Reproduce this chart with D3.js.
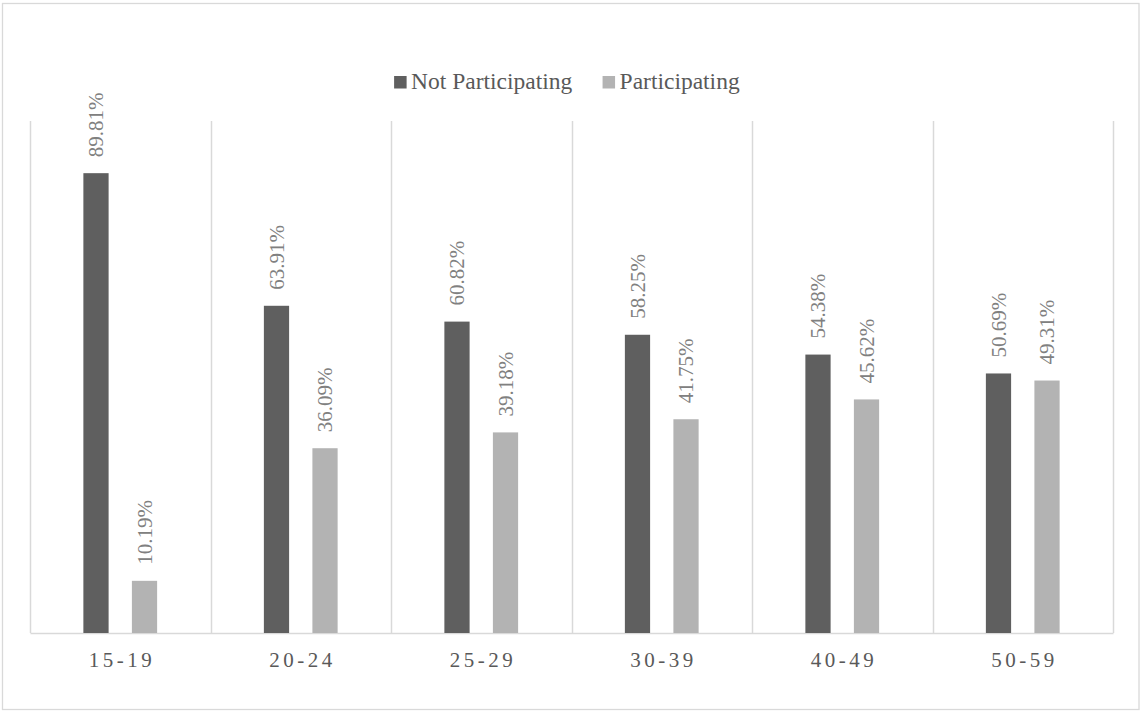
<!DOCTYPE html>
<html>
<head>
<meta charset="utf-8">
<script src="https://cdn.jsdelivr.net/npm/d3@7"></script>
<style>
  html, body { margin: 0; padding: 0; background: #fff; }
  svg { display: block; }
</style>
</head>
<body>
<script>
// Labour-force participation by age group
const ageGroups = ["15-19", "20-24", "25-29", "30-39", "40-49", "50-59"];
const notParticipating = [89.81, 63.91, 60.82, 58.25, 54.38, 50.69];
const participating = [10.19, 36.09, 39.18, 41.75, 45.62, 49.31];
const seriesNames = ["Not Participating", "Participating"];
const seriesColors = ["#5f5f5f", "#b3b3b3"];

const FONT = "'Liberation Serif', 'Times New Roman', serif";
const W = 1141, H = 711;
const plot = { left: 30, right: 1113, top: 121, bottom: 633 };

const svg = d3.select("body").append("svg")
  .attr("width", W).attr("height", H)
  .attr("font-family", FONT);

// chart frame
svg.append("rect")
  .attr("x", 2.5).attr("y", 3.5)
  .attr("width", W - 4.5).attr("height", H - 5)
  .attr("fill", "#fff").attr("stroke", "#d9d9d9").attr("stroke-width", 1.3);

const x0 = d3.scaleBand()
  .domain(ageGroups)
  .range([plot.left, plot.right])
  .paddingInner(0).paddingOuter(0);

const x1 = d3.scaleBand()
  .domain(seriesNames)
  .range([0, x0.bandwidth()])
  .paddingInner(0.48)
  .paddingOuter(1.1);

const y = d3.scaleLinear().domain([0, 100]).range([plot.bottom, plot.top]);

// vertical category separators
const bounds = ageGroups.map(g => x0(g)).concat([plot.right]);
svg.append("g").selectAll("line")
  .data(bounds)
  .join("line")
  .attr("x1", d => Math.round(d) + 0.5).attr("x2", d => Math.round(d) + 0.5)
  .attr("y1", plot.top).attr("y2", plot.bottom)
  .attr("stroke", "#d9d9d9").attr("stroke-width", 1.5);

// category axis
const xAxis = svg.append("g")
  .attr("transform", `translate(0,${plot.bottom})`)
  .call(d3.axisBottom(x0).tickSize(0).tickPadding(19));
xAxis.attr("font-family", FONT);
xAxis.select(".domain").attr("stroke", "#d9d9d9").attr("stroke-width", 1.5);
xAxis.selectAll("text")
  .style("font-family", FONT)
  .attr("font-size", 21)
  .attr("fill", "#595959")
  .attr("letter-spacing", "3.5px")
  .attr("dx", "1.75px");

const rows = ageGroups.map((g, i) => ({
  group: g,
  values: [
    { key: seriesNames[0], value: notParticipating[i], color: seriesColors[0] },
    { key: seriesNames[1], value: participating[i], color: seriesColors[1] }
  ]
}));

const groups = svg.append("g").selectAll("g")
  .data(rows)
  .join("g")
  .attr("transform", d => `translate(${x0(d.group)},0)`);

groups.selectAll("rect")
  .data(d => d.values)
  .join("rect")
  .attr("x", d => x1(d.key))
  .attr("width", x1.bandwidth())
  .attr("y", d => y(d.value))
  .attr("height", d => y(0) - y(d.value))
  .attr("fill", d => d.color);

// rotated value labels above each bar
groups.selectAll("text.val")
  .data(d => d.values)
  .join("text")
  .attr("class", "val")
  .attr("transform", d => `translate(${x1(d.key) + x1.bandwidth() / 2},${y(d.value) - 16}) rotate(-90)`)
  .attr("dy", "0.34em")
  .attr("text-anchor", "start")
  .style("font-family", FONT)
  .attr("font-size", 21)
  .attr("fill", "#808080")
  .text(d => d.value.toFixed(2) + "%");

// legend
const legend = svg.append("g");
const items = legend.selectAll("g")
  .data(seriesNames)
  .join("g");
items.append("rect")
  .attr("width", 12.5).attr("height", 12.5)
  .attr("y", -13)
  .attr("fill", (d, i) => seriesColors[i]);
items.append("text")
  .attr("x", 17)
  .style("font-family", FONT)
  .attr("font-size", 23.5)
  .attr("fill", "#595959")
  .text(d => d);
let offset = 0;
items.each(function () {
  const g = d3.select(this);
  g.attr("transform", `translate(${offset},0)`);
  offset += this.getBBox().width + 30;
});
const legendWidth = offset - 30;
legend.attr("transform", `translate(${567 - legendWidth / 2},89)`);
</script>
</body>
</html>
